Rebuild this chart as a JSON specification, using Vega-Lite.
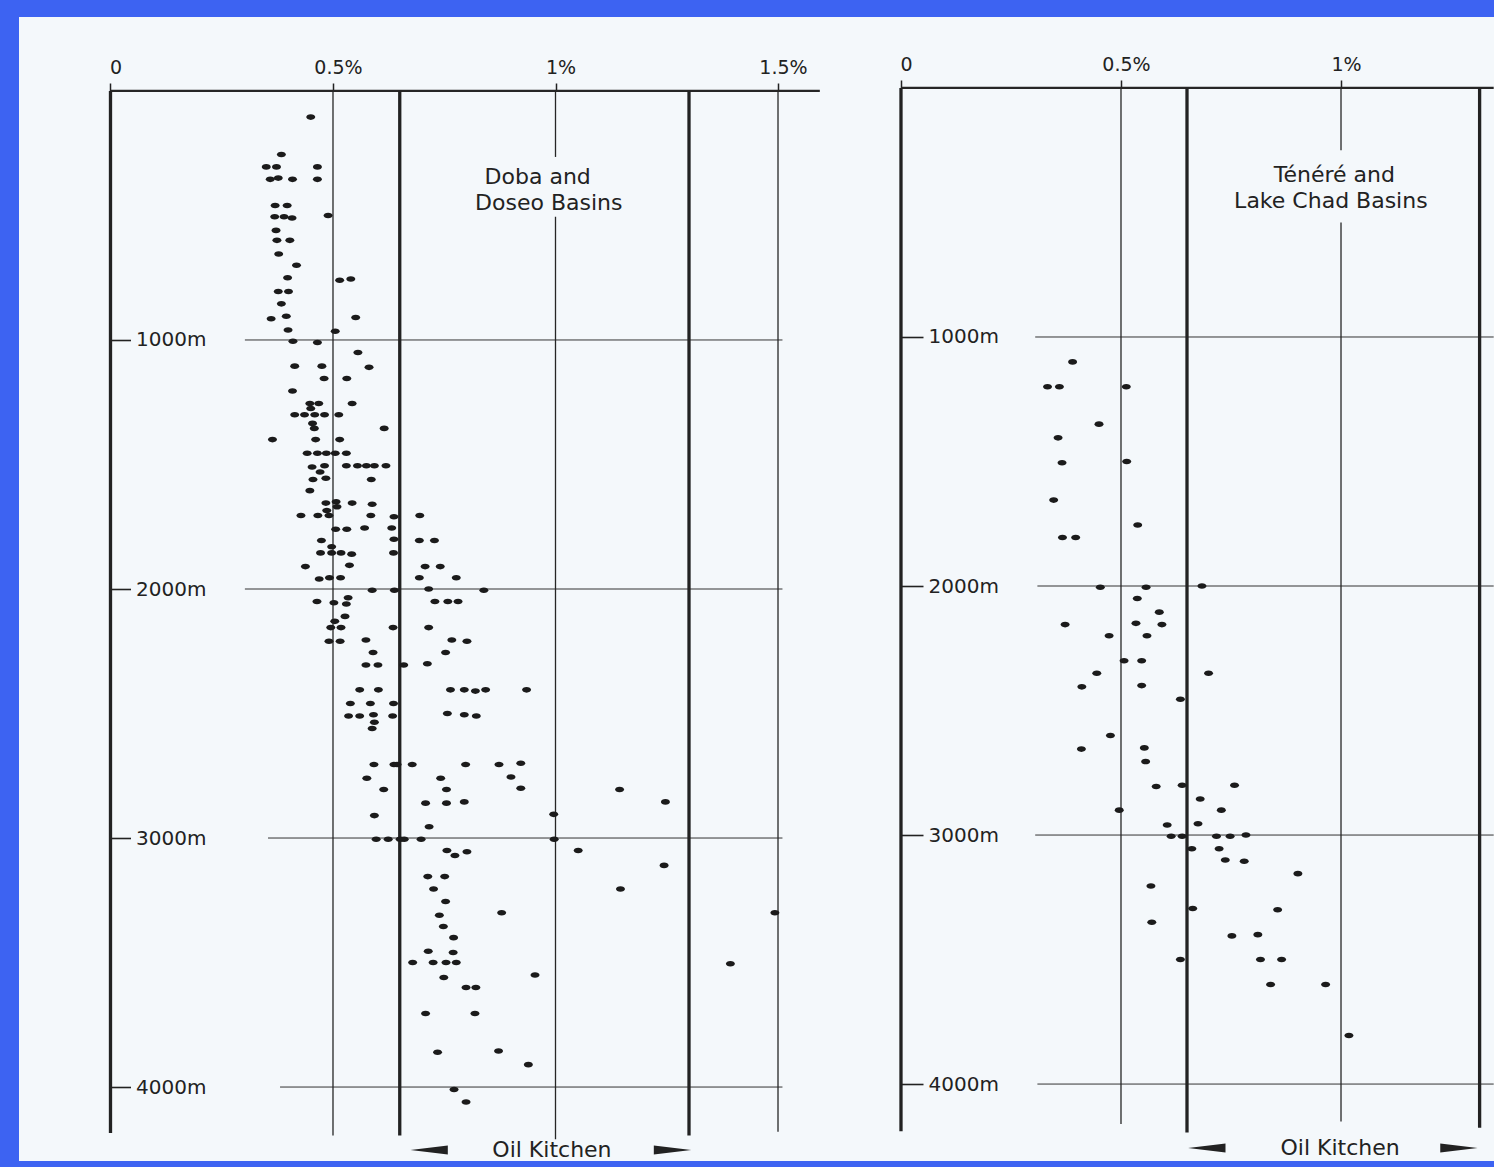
{
  "$schema": "https://vega.github.io/schema/vega-lite/v6.json",
  "background": "#3d63f2",
  "padding": {"left": 19, "top": 17, "right": 0, "bottom": 6},
  "spacing": 0,
  "bounds": "flush",
  "config": {
    "view": {"stroke": null},
    "axis": {"grid": false, "domain": false, "title": null, "labelFont": "DejaVu Sans", "labelColor": "#222222", "tickColor": "#222222", "labelOverlap": false, "labelFlush": false},
    "text": {"font": "DejaVu Sans", "color": "#222222"}
  },
  "datasets": {
    "doba": [
      {"r":0.450,"depth":105},{"r":0.384,"depth":255},{"r":0.350,"depth":305},{"r":0.373,"depth":305},{"r":0.465,"depth":305},
      {"r":0.359,"depth":355},{"r":0.377,"depth":350},{"r":0.409,"depth":355},{"r":0.465,"depth":355},{"r":0.370,"depth":460},
      {"r":0.397,"depth":460},{"r":0.369,"depth":505},{"r":0.390,"depth":505},{"r":0.408,"depth":510},{"r":0.489,"depth":500},
      {"r":0.372,"depth":560},{"r":0.374,"depth":600},{"r":0.403,"depth":600},{"r":0.378,"depth":655},{"r":0.418,"depth":700},
      {"r":0.398,"depth":750},{"r":0.515,"depth":760},{"r":0.540,"depth":755},{"r":0.377,"depth":805},{"r":0.400,"depth":805},
      {"r":0.384,"depth":855},{"r":0.361,"depth":915},{"r":0.395,"depth":905},{"r":0.551,"depth":910},{"r":0.399,"depth":960},
      {"r":0.505,"depth":965},{"r":0.410,"depth":1005},{"r":0.465,"depth":1010},{"r":0.556,"depth":1050},
      {"r":0.414,"depth":1105},{"r":0.475,"depth":1105},{"r":0.581,"depth":1110},
      {"r":0.480,"depth":1155},{"r":0.531,"depth":1155},{"r":0.409,"depth":1205},
      {"r":0.448,"depth":1255},{"r":0.468,"depth":1255},{"r":0.543,"depth":1255},{"r":0.450,"depth":1275},
      {"r":0.414,"depth":1300},{"r":0.436,"depth":1300},{"r":0.459,"depth":1300},{"r":0.481,"depth":1300},{"r":0.513,"depth":1300},
      {"r":0.454,"depth":1335},{"r":0.458,"depth":1355},{"r":0.615,"depth":1355},
      {"r":0.364,"depth":1400},{"r":0.461,"depth":1400},{"r":0.515,"depth":1400},
      {"r":0.442,"depth":1455},{"r":0.465,"depth":1455},{"r":0.485,"depth":1455},{"r":0.505,"depth":1455},{"r":0.530,"depth":1455},
      {"r":0.453,"depth":1510},{"r":0.481,"depth":1505},{"r":0.530,"depth":1505},{"r":0.555,"depth":1505},{"r":0.575,"depth":1505},{"r":0.593,"depth":1505},{"r":0.619,"depth":1505},
      {"r":0.471,"depth":1530},{"r":0.455,"depth":1560},{"r":0.484,"depth":1555},{"r":0.586,"depth":1560},{"r":0.448,"depth":1605},
      {"r":0.484,"depth":1655},{"r":0.507,"depth":1650},{"r":0.509,"depth":1670},{"r":0.543,"depth":1655},{"r":0.588,"depth":1660},
      {"r":0.486,"depth":1685},
      {"r":0.428,"depth":1705},{"r":0.466,"depth":1705},{"r":0.491,"depth":1705},{"r":0.585,"depth":1705},{"r":0.637,"depth":1710},{"r":0.695,"depth":1705},
      {"r":0.506,"depth":1760},{"r":0.531,"depth":1760},{"r":0.571,"depth":1755},{"r":0.632,"depth":1755},
      {"r":0.474,"depth":1805},{"r":0.637,"depth":1800},{"r":0.694,"depth":1805},{"r":0.728,"depth":1805},
      {"r":0.497,"depth":1830},
      {"r":0.472,"depth":1855},{"r":0.497,"depth":1855},{"r":0.518,"depth":1855},{"r":0.542,"depth":1860},{"r":0.636,"depth":1855},
      {"r":0.438,"depth":1910},{"r":0.537,"depth":1905},{"r":0.707,"depth":1910},{"r":0.741,"depth":1910},
      {"r":0.469,"depth":1960},{"r":0.492,"depth":1955},{"r":0.517,"depth":1955},{"r":0.694,"depth":1955},{"r":0.777,"depth":1955},
      {"r":0.588,"depth":2005},{"r":0.638,"depth":2005},{"r":0.715,"depth":2000},{"r":0.839,"depth":2005},
      {"r":0.464,"depth":2050},{"r":0.502,"depth":2055},{"r":0.530,"depth":2060},{"r":0.534,"depth":2035},{"r":0.729,"depth":2050},{"r":0.758,"depth":2050},{"r":0.781,"depth":2050},
      {"r":0.527,"depth":2110},{"r":0.504,"depth":2130},
      {"r":0.495,"depth":2155},{"r":0.518,"depth":2155},{"r":0.635,"depth":2155},{"r":0.715,"depth":2155},
      {"r":0.491,"depth":2210},{"r":0.516,"depth":2210},{"r":0.574,"depth":2205},{"r":0.767,"depth":2205},{"r":0.801,"depth":2210},
      {"r":0.590,"depth":2255},{"r":0.753,"depth":2255},
      {"r":0.574,"depth":2305},{"r":0.601,"depth":2305},{"r":0.659,"depth":2305},{"r":0.712,"depth":2300},
      {"r":0.560,"depth":2405},{"r":0.602,"depth":2405},{"r":0.764,"depth":2405},{"r":0.795,"depth":2405},{"r":0.820,"depth":2410},{"r":0.843,"depth":2405},{"r":0.935,"depth":2405},
      {"r":0.539,"depth":2460},{"r":0.584,"depth":2460},{"r":0.636,"depth":2460},
      {"r":0.535,"depth":2510},{"r":0.560,"depth":2510},{"r":0.591,"depth":2505},{"r":0.634,"depth":2510},{"r":0.757,"depth":2500},{"r":0.795,"depth":2505},{"r":0.822,"depth":2510},
      {"r":0.593,"depth":2535},{"r":0.588,"depth":2560},
      {"r":0.592,"depth":2705},{"r":0.637,"depth":2705},{"r":0.644,"depth":2705},{"r":0.678,"depth":2705},{"r":0.798,"depth":2705},{"r":0.873,"depth":2705},{"r":0.922,"depth":2700},
      {"r":0.576,"depth":2760},{"r":0.742,"depth":2760},{"r":0.900,"depth":2755},
      {"r":0.614,"depth":2805},{"r":0.755,"depth":2805},{"r":0.922,"depth":2800},{"r":1.144,"depth":2805},
      {"r":0.708,"depth":2860},{"r":0.755,"depth":2860},{"r":0.795,"depth":2855},{"r":1.247,"depth":2855},
      {"r":0.593,"depth":2910},{"r":0.996,"depth":2905},{"r":0.716,"depth":2955},
      {"r":0.597,"depth":3005},{"r":0.624,"depth":3005},{"r":0.651,"depth":3005},{"r":0.660,"depth":3005},{"r":0.698,"depth":3005},{"r":0.997,"depth":3005},
      {"r":0.756,"depth":3050},{"r":0.774,"depth":3070},{"r":0.801,"depth":3055},{"r":1.051,"depth":3050},
      {"r":1.244,"depth":3110},{"r":0.713,"depth":3155},{"r":0.751,"depth":3155},
      {"r":0.726,"depth":3205},{"r":1.146,"depth":3205},{"r":0.753,"depth":3255},
      {"r":0.739,"depth":3310},{"r":0.879,"depth":3300},{"r":1.493,"depth":3300},
      {"r":0.748,"depth":3355},{"r":0.771,"depth":3400},{"r":0.714,"depth":3455},{"r":0.770,"depth":3460},
      {"r":0.679,"depth":3500},{"r":0.725,"depth":3500},{"r":0.754,"depth":3500},{"r":0.777,"depth":3500},{"r":1.393,"depth":3505},
      {"r":0.749,"depth":3560},{"r":0.954,"depth":3550},{"r":0.799,"depth":3600},{"r":0.821,"depth":3600},
      {"r":0.708,"depth":3705},{"r":0.819,"depth":3705},{"r":0.735,"depth":3860},{"r":0.872,"depth":3855},
      {"r":0.939,"depth":3910},{"r":0.772,"depth":4010},{"r":0.799,"depth":4060}
    ],
    "tenere": [
      {"r":0.390,"depth":1100},{"r":0.333,"depth":1200},{"r":0.360,"depth":1200},{"r":0.512,"depth":1200},
      {"r":0.450,"depth":1350},{"r":0.357,"depth":1405},{"r":0.366,"depth":1505},{"r":0.513,"depth":1500},
      {"r":0.347,"depth":1655},{"r":0.538,"depth":1755},{"r":0.367,"depth":1805},{"r":0.397,"depth":1805},
      {"r":0.453,"depth":2005},{"r":0.557,"depth":2005},{"r":0.684,"depth":2000},{"r":0.537,"depth":2050},
      {"r":0.587,"depth":2105},{"r":0.373,"depth":2155},{"r":0.534,"depth":2150},{"r":0.593,"depth":2155},
      {"r":0.473,"depth":2200},{"r":0.559,"depth":2200},{"r":0.507,"depth":2300},{"r":0.547,"depth":2300},
      {"r":0.445,"depth":2350},{"r":0.699,"depth":2350},{"r":0.411,"depth":2405},{"r":0.547,"depth":2400},
      {"r":0.635,"depth":2455},{"r":0.476,"depth":2600},{"r":0.410,"depth":2655},{"r":0.553,"depth":2650},
      {"r":0.556,"depth":2705},{"r":0.580,"depth":2805},{"r":0.639,"depth":2800},{"r":0.758,"depth":2800},
      {"r":0.680,"depth":2855},{"r":0.496,"depth":2900},{"r":0.728,"depth":2900},{"r":0.605,"depth":2960},
      {"r":0.675,"depth":2955},{"r":0.614,"depth":3005},{"r":0.639,"depth":3005},{"r":0.717,"depth":3005},
      {"r":0.748,"depth":3005},{"r":0.784,"depth":3000},{"r":0.661,"depth":3055},{"r":0.723,"depth":3055},
      {"r":0.737,"depth":3100},{"r":0.780,"depth":3105},{"r":0.902,"depth":3155},{"r":0.568,"depth":3205},
      {"r":0.663,"depth":3295},{"r":0.856,"depth":3300},{"r":0.570,"depth":3350},{"r":0.752,"depth":3405},
      {"r":0.811,"depth":3400},{"r":0.635,"depth":3500},{"r":0.817,"depth":3500},{"r":0.865,"depth":3500},
      {"r":0.840,"depth":3600},{"r":0.965,"depth":3600},{"r":1.018,"depth":3805}
    ],
    "doba_frame": [
      {"kind":"topline","r":0,"r2":1.594,"depth":0,"depth2":0},
      {"kind":"axis","r":0,"r2":0,"depth":0,"depth2":4185},
      {"kind":"grid","r":0.5,"r2":0.5,"depth":0,"depth2":4195},
      {"kind":"limit","r":0.65,"r2":0.65,"depth":0,"depth2":4195},
      {"kind":"grid","r":1,"r2":1,"depth":0,"depth2":265},
      {"kind":"grid","r":1,"r2":1,"depth":505,"depth2":4210},
      {"kind":"limit","r":1.3,"r2":1.3,"depth":0,"depth2":4195},
      {"kind":"grid","r":1.5,"r2":1.5,"depth":0,"depth2":4180},
      {"kind":"hgrid","r":0.302,"r2":1.51,"depth":1000,"depth2":1000},
      {"kind":"hgrid","r":0.302,"r2":1.51,"depth":2000,"depth2":2000},
      {"kind":"hgrid","r":0.354,"r2":1.51,"depth":3000,"depth2":3000},
      {"kind":"hgrid","r":0.381,"r2":1.51,"depth":4000,"depth2":4000}
    ],
    "tenere_frame": [
      {"kind":"topline","r":0,"r2":1.347,"depth":0,"depth2":0},
      {"kind":"axis","r":0,"r2":0,"depth":0,"depth2":4190},
      {"kind":"grid","r":0.5,"r2":0.5,"depth":0,"depth2":4160},
      {"kind":"limit","r":0.65,"r2":0.65,"depth":0,"depth2":4195},
      {"kind":"grid","r":1,"r2":1,"depth":0,"depth2":250},
      {"kind":"grid","r":1,"r2":1,"depth":540,"depth2":4150},
      {"kind":"limit","r":1.315,"r2":1.315,"depth":0,"depth2":4175},
      {"kind":"hgrid","r":0.305,"r2":1.347,"depth":1000,"depth2":1000},
      {"kind":"hgrid","r":0.31,"r2":1.347,"depth":2000,"depth2":2000},
      {"kind":"hgrid","r":0.305,"r2":1.347,"depth":3000,"depth2":3000},
      {"kind":"hgrid","r":0.31,"r2":1.347,"depth":4000,"depth2":4000}
    ],
    "doba_notes": [
      {"note":"Doba and","r":0.960,"depth":345},
      {"note":"Doseo Basins","r":0.985,"depth":448},
      {"note":"Oil Kitchen","r":0.992,"depth":4253}
    ],
    "tenere_notes": [
      {"note":"Ténéré and","r":0.985,"depth":350},
      {"note":"Lake Chad Basins","r":0.977,"depth":454},
      {"note":"Oil Kitchen","r":0.998,"depth":4257}
    ],
    "doba_arrows": [
      {"dir":"left","r":0.716,"depth":4253},
      {"dir":"right","r":1.263,"depth":4253}
    ],
    "tenere_arrows": [
      {"dir":"left","r":0.695,"depth":4257},
      {"dir":"right","r":1.268,"depth":4257}
    ]
  },
  "hconcat": [
    {
      "width": 861,
      "height": 1144,
      "view": {"fill": "#f4f8fb", "stroke": null},
      "encoding": {
        "x": {"field": "r", "type": "quantitative",
              "scale": {"domain": [-0.2056, 1.7292], "nice": false, "zero": false},
              "axis": {"orient": "top", "offset": -74, "values": [0, 0.5, 1, 1.5], "labelExpr": "datum.value == 0 ? '0' : datum.value + '%'", "tickSize": 8, "tickWidth": 1.5, "labelFontSize": 19, "labelPadding": 6, "labelOffset": 5}},
        "y": {"field": "depth", "type": "quantitative",
              "scale": {"domain": [-297, 4297], "reverse": true, "nice": false, "zero": false},
              "axis": {"orient": "right", "offset": -769.5, "values": [1000, 2000, 3000, 4000], "labelExpr": "datum.value + 'm'", "tickSize": 20, "tickWidth": 1.6, "labelFontSize": 20, "labelPadding": 5}}
      },
      "layer": [
        {"data": {"name": "doba_frame"}, "transform": [{"filter": "datum.kind == 'hgrid'"}],
         "mark": {"type": "rule", "color": "#333333", "strokeWidth": 1}, "encoding": {"x2": {"field": "r2"}, "y2": {"field": "depth2"}}},
        {"data": {"name": "doba_frame"}, "transform": [{"filter": "datum.kind == 'grid'"}],
         "mark": {"type": "rule", "color": "#262626", "strokeWidth": 1.3}, "encoding": {"x2": {"field": "r2"}, "y2": {"field": "depth2"}}},
        {"data": {"name": "doba_frame"}, "transform": [{"filter": "datum.kind == 'topline'"}],
         "mark": {"type": "rule", "color": "#262626", "strokeWidth": 2.2}, "encoding": {"x2": {"field": "r2"}, "y2": {"field": "depth2"}}},
        {"data": {"name": "doba_frame"}, "transform": [{"filter": "datum.kind == 'axis' || datum.kind == 'limit'"}],
         "mark": {"type": "rule", "color": "#222222", "strokeWidth": 3.3}, "encoding": {"x2": {"field": "r2"}, "y2": {"field": "depth2"}}},
        {"data": {"name": "doba"},
         "mark": {"type": "point", "filled": true, "shape": "M -1 0 A 1 0.62 0 1 0 1 0 A 1 0.62 0 1 0 -1 0 Z", "size": 81, "color": "#1b1b1b", "opacity": 1}},
        {"data": {"name": "doba_notes"},
         "mark": {"type": "text", "fontSize": 22, "align": "center", "baseline": "middle"},
         "encoding": {"text": {"field": "note"}}},
        {"data": {"name": "doba_arrows"},
         "mark": {"type": "point", "filled": true, "size": 1400, "color": "#222222", "opacity": 1},
         "encoding": {"shape": {"field": "dir", "type": "nominal", "scale": {"domain": ["left", "right"], "range": ["M -1 0 L 1 -0.24 L 1 0.24 Z", "M 1 0 L -1 -0.24 L -1 0.24 Z"]}, "legend": null}}}
      ]
    },
    {
      "width": 614,
      "height": 1144,
      "view": {"fill": "#f4f8fb", "stroke": null},
      "encoding": {
        "x": {"field": "r", "type": "quantitative",
              "scale": {"domain": [-0.0477, 1.3477], "nice": false, "zero": false},
              "axis": {"orient": "top", "offset": -71, "values": [0, 0.5, 1], "labelExpr": "datum.value == 0 ? '0' : datum.value + '%'", "tickSize": 8, "tickWidth": 1.5, "labelFontSize": 19, "labelPadding": 6, "labelOffset": 5}},
        "y": {"field": "depth", "type": "quantitative",
              "scale": {"domain": [-285, 4309], "reverse": true, "nice": false, "zero": false},
              "axis": {"orient": "right", "offset": -593, "values": [1000, 2000, 3000, 4000], "labelExpr": "datum.value + 'm'", "tickSize": 22, "tickWidth": 1.6, "labelFontSize": 20, "labelPadding": 5}}
      },
      "layer": [
        {"data": {"name": "tenere_frame"}, "transform": [{"filter": "datum.kind == 'hgrid'"}],
         "mark": {"type": "rule", "color": "#333333", "strokeWidth": 1}, "encoding": {"x2": {"field": "r2"}, "y2": {"field": "depth2"}}},
        {"data": {"name": "tenere_frame"}, "transform": [{"filter": "datum.kind == 'grid'"}],
         "mark": {"type": "rule", "color": "#262626", "strokeWidth": 1.3}, "encoding": {"x2": {"field": "r2"}, "y2": {"field": "depth2"}}},
        {"data": {"name": "tenere_frame"}, "transform": [{"filter": "datum.kind == 'topline'"}],
         "mark": {"type": "rule", "color": "#262626", "strokeWidth": 2.2}, "encoding": {"x2": {"field": "r2"}, "y2": {"field": "depth2"}}},
        {"data": {"name": "tenere_frame"}, "transform": [{"filter": "datum.kind == 'axis' || datum.kind == 'limit'"}],
         "mark": {"type": "rule", "color": "#222222", "strokeWidth": 3.3}, "encoding": {"x2": {"field": "r2"}, "y2": {"field": "depth2"}}},
        {"data": {"name": "tenere"},
         "mark": {"type": "point", "filled": true, "shape": "M -1 0 A 1 0.62 0 1 0 1 0 A 1 0.62 0 1 0 -1 0 Z", "size": 81, "color": "#1b1b1b", "opacity": 1}},
        {"data": {"name": "tenere_notes"},
         "mark": {"type": "text", "fontSize": 22, "align": "center", "baseline": "middle"},
         "encoding": {"text": {"field": "note"}}},
        {"data": {"name": "tenere_arrows"},
         "mark": {"type": "point", "filled": true, "size": 1400, "color": "#222222", "opacity": 1},
         "encoding": {"shape": {"field": "dir", "type": "nominal", "scale": {"domain": ["left", "right"], "range": ["M -1 0 L 1 -0.24 L 1 0.24 Z", "M 1 0 L -1 -0.24 L -1 0.24 Z"]}, "legend": null}}}
      ]
    }
  ]
}
